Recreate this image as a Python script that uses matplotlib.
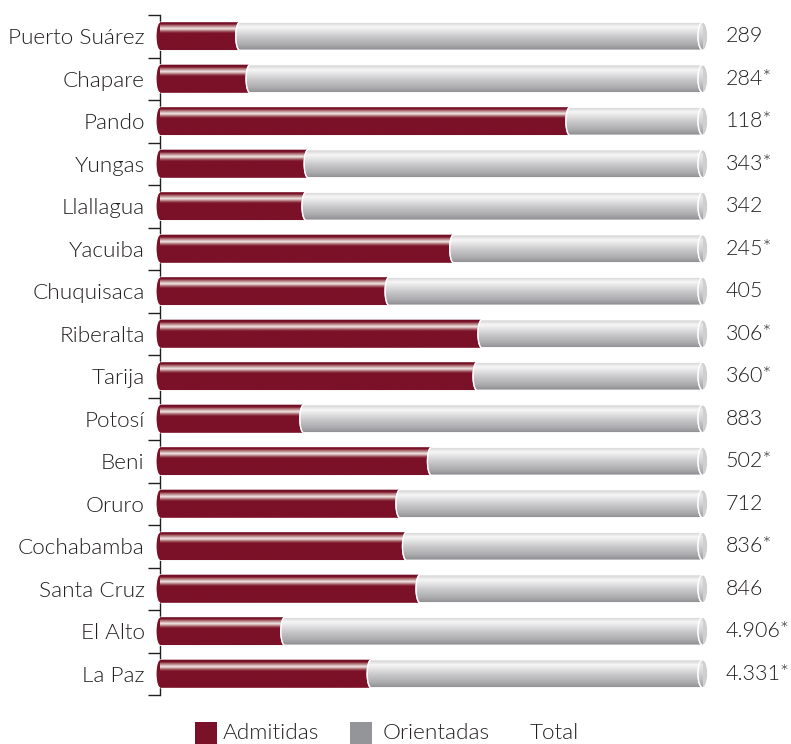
import numpy as np
import matplotlib
matplotlib.use("Agg")
import matplotlib.pyplot as plt
from matplotlib.patches import Ellipse, PathPatch, Rectangle
from matplotlib.path import Path
from matplotlib.colors import LinearSegmentedColormap, to_rgb

# Sedes, share of admitted applicants (% of total) and total applicants
sedes = ["Puerto Suárez", "Chapare", "Pando", "Yungas", "Llallagua", "Yacuiba",
         "Chuquisaca", "Riberalta", "Tarija", "Potosí", "Beni", "Oruro",
         "Cochabamba", "Santa Cruz", "El Alto", "La Paz"]
admitidas_pct = [14.7, 16.6, 75.5, 27.3, 26.9, 54.1, 42.2, 59.3,
                 58.4, 26.5, 50.0, 44.2, 45.4, 47.9, 23.0, 38.9]
totales = [289, 284, 118, 343, 342, 245, 405, 306,
           360, 883, 502, 712, 836, 846, 4906, 4331]
asterisco = [False, True, True, True, False, True, False, True,
             True, False, True, False, True, False, True, True]
leyenda = ["Admitidas", "Orientadas", "Total"]

ROJO = "#7b1128"
GRIS = "#939598"
TEXTO = "#231f20"
FONT = "Lato"
FW = 300
FS = 15.5
FS_CAT = 16.2

W, H = 791, 744
fig = plt.figure(figsize=(W / 100, H / 100), dpi=100)
x0_px, x1_px = 160, 703
y0_px, y1_px = 15, 695
ax = fig.add_axes([x0_px / W, 1 - y1_px / H, (x1_px - x0_px) / W, (y1_px - y0_px) / H])

n = len(sedes)
pos = np.arange(n)
adm = np.array(admitidas_pct) / 100.0
ori = 1.0 - adm
bar_h = 0.66

# half-widths of the elliptical ends, in data units
cap_a = 4.0 / (x1_px - x0_px)
end_a = 5.0 / (x1_px - x0_px)


def cmap_from(stops):
    return LinearSegmentedColormap.from_list("g", [(p, to_rgb(c)) for p, c in stops])


red_grad = cmap_from([(0.0, "#6a0d22"), (0.10, "#7b1128"), (0.15, "#a86a6e"),
                      (0.20, "#c9a0a0"), (0.26, "#f4ecec"), (0.31, "#c9a0a0"),
                      (0.37, "#93424c"), (0.42, "#7b1128"), (1.0, "#7b1128")])
grey_grad = cmap_from([(0.0, "#a4a4a6"), (0.05, "#d4d4d5"), (0.20, "#f7f7f7"),
                       (0.30, "#e9e9ea"), (0.55, "#c7c7c9"), (0.80, "#adadaf"),
                       (1.0, "#8d8d91")])
cap_grad = cmap_from([(0.0, "#bdbdbf"), (0.20, "#e9e9ea"), (0.50, "#d4d4d6"),
                      (1.0, "#9d9da0")])

grad = np.linspace(0, 1, 256).reshape(-1, 1)


def rounded_left(x, y, w, h, a):
    """Rectangle whose left side is a half ellipse bulging outwards."""
    t = np.linspace(np.pi / 2, 3 * np.pi / 2, 40)
    cy = y + h / 2
    arc_x = x + a * np.cos(t)
    arc_y = cy + (h / 2) * np.sin(t)
    verts = [(x, y), (x + w, y), (x + w, y + h)] + list(zip(arc_x, arc_y))
    verts.append((x, y))
    return Path(verts)


def fill_gradient(path_patch, x_lo, x_hi, y_top, y_bot, cmap, z):
    ax.add_patch(path_patch)
    im = ax.imshow(grad, cmap=cmap, aspect="auto", origin="upper",
                   extent=(x_lo, x_hi, y_bot, y_top), zorder=z,
                   interpolation="bilinear")
    im.set_clip_path(path_patch)


bars_adm = ax.barh(pos, adm, height=bar_h, color=ROJO, linewidth=0, zorder=1)
bars_ori = ax.barh(pos, ori, left=adm, height=bar_h, color=GRIS, linewidth=0, zorder=1)

for rect in bars_adm:
    x, y, w, h = rect.get_x(), rect.get_y(), rect.get_width(), rect.get_height()
    rect.set_visible(False)
    pp = PathPatch(rounded_left(x, y, w, h, cap_a), facecolor=ROJO,
                   edgecolor="white", linewidth=0.8, zorder=2)
    fill_gradient(pp, x - cap_a, x + w, y, y + h, red_grad, 2.1)

for rect in bars_ori:
    x, y, w, h = rect.get_x(), rect.get_y(), rect.get_width(), rect.get_height()
    rect.set_visible(False)
    pp = PathPatch(rounded_left(x, y, w, h, cap_a), facecolor=GRIS,
                   edgecolor="white", linewidth=1.0, zorder=3)
    fill_gradient(pp, x - cap_a, x + w, y, y + h, grey_grad, 3.1)
    ax.add_patch(PathPatch(rounded_left(x, y, w, h, cap_a), facecolor="none",
                           edgecolor="white", linewidth=1.0, zorder=3.2))
    # end face of the cylinder
    e = Ellipse((x + w, y + h / 2), 2 * end_a, h, facecolor="#cfcfd0",
                edgecolor="white", linewidth=1.0, zorder=4)
    fill_gradient(e, x + w - end_a, x + w + end_a, y, y + h, cap_grad, 4.1)
    ax.add_patch(Ellipse((x + w, y + h / 2), 2 * end_a, h, facecolor="none",
                         edgecolor="white", linewidth=1.0, zorder=4.2, clip_on=False))

# total labels
for i, (t, star) in enumerate(zip(totales, asterisco)):
    s = f"{t:,}".replace(",", ".") + ("*" if star else "")
    ax.text(1.042, i, s, ha="left", va="center", fontsize=FS, family=FONT,
            weight=FW, color=TEXTO, clip_on=False)

ax.set_xlim(0, 1)
ax.set_ylim(n - 0.5, -0.5)
ax.set_yticks(pos)
ax.set_yticklabels(sedes, fontsize=FS_CAT, family=FONT, weight=FW, color=TEXTO)
ax.set_yticks(np.arange(-0.5, n, 1.0), minor=True)
ax.tick_params(axis="y", which="major", length=0, pad=11)
ax.tick_params(axis="y", which="minor", length=9, width=1.0, color=TEXTO)
ax.set_xticks([])
for side in ("top", "right", "bottom"):
    ax.spines[side].set_visible(False)
ax.spines["left"].set_color(TEXTO)
ax.spines["left"].set_linewidth(1.0)
ax.spines["left"].set_zorder(0)
ax.patch.set_alpha(0)
for p in ax.patches:
    p.set_clip_on(False)

# legend row at the bottom
sq = 22
ly = 733
for x_sq, x_txt, col, lab in [(195, 223, ROJO, leyenda[0]), (350, 383, GRIS, leyenda[1]),
                              (None, 530, None, leyenda[2])]:
    if col is not None:
        fig.add_artist(Rectangle((x_sq / W, 1 - (ly + sq / 2) / H), sq / W, sq / H,
                                 transform=fig.transFigure, facecolor=col,
                                 edgecolor="none"))
    fig.text(x_txt / W, 1 - ly / H, lab, ha="left", va="center", fontsize=FS_CAT,
             family=FONT, weight=FW, color=TEXTO)

fig.savefig("out.png", dpi=100)
